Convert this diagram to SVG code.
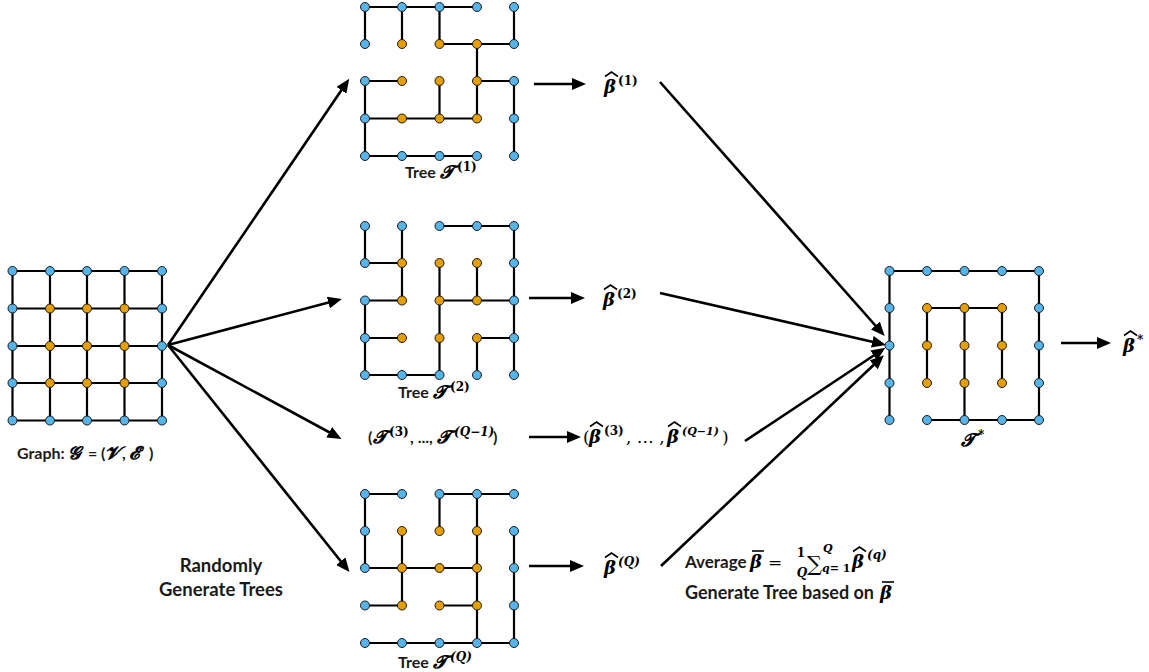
<svg xmlns="http://www.w3.org/2000/svg" width="1149" height="672" viewBox="0 0 1149 672">
<style>
.e{fill:none;stroke:#000;stroke-width:2.2;stroke-linecap:round}
.b{fill:#56B4E9;stroke:#1a1a1a;stroke-width:1}
.o{fill:#E69F00;stroke:#1a1a1a;stroke-width:1}
.a{fill:none;stroke:#000;stroke-width:2.6;marker-end:url(#ah)}
.t{font-family:Lato,"Liberation Sans",sans-serif;font-weight:bold;font-size:16px;fill:#1a1a1a}
.t2{font-family:Lato,"Liberation Sans",sans-serif;font-weight:bold;font-size:18.5px;fill:#1a1a1a}
.m{font-family:"DejaVu Serif","Liberation Serif",serif;font-weight:bold;font-style:italic;font-size:18px;fill:#000}
.n{font-family:"DejaVu Serif","Liberation Serif",serif;font-weight:normal;font-style:normal;font-size:17px;fill:#000}
.s{font-family:"DejaVu Serif","Liberation Serif",serif;font-weight:bold;font-style:normal;font-size:12px;fill:#000}
.si{font-family:"DejaVu Serif","Liberation Serif",serif;font-weight:bold;font-style:italic;font-size:12px;fill:#000}
.acc{fill:none;stroke:#000;stroke-width:1.6;stroke-linejoin:miter}
</style>
<defs>
<marker id="ah" markerUnits="userSpaceOnUse" markerWidth="14" markerHeight="12" refX="10" refY="6" orient="auto">
<path d="M0,0 L14,6 L0,12 z" fill="#000"/>
</marker>
<path id="hat" class="acc" d="M0,4.5 L6.5,0 L13,4.5"/>
<path id="bar" class="acc" d="M0,0 H12"/>
</defs>

<g id="graph">
<path class="e" d="M12.5,271 H162 M12.5,308.5 H162 M12.5,346 H162 M12.5,383 H162 M12.5,420.5 H162 M12.5,271 V420.5 M50,271 V420.5 M87,271 V420.5 M124.5,271 V420.5 M162,271 V420.5"/>
<circle class="b" cx="12.5" cy="271" r="4.5"/><circle class="b" cx="50" cy="271" r="4.5"/><circle class="b" cx="87" cy="271" r="4.5"/><circle class="b" cx="124.5" cy="271" r="4.5"/><circle class="b" cx="162" cy="271" r="4.5"/>
<circle class="b" cx="12.5" cy="308.5" r="4.5"/><circle class="o" cx="50" cy="308.5" r="4.5"/><circle class="o" cx="87" cy="308.5" r="4.5"/><circle class="o" cx="124.5" cy="308.5" r="4.5"/><circle class="b" cx="162" cy="308.5" r="4.5"/>
<circle class="b" cx="12.5" cy="346" r="4.5"/><circle class="o" cx="50" cy="346" r="4.5"/><circle class="o" cx="87" cy="346" r="4.5"/><circle class="o" cx="124.5" cy="346" r="4.5"/><circle class="b" cx="162" cy="346" r="4.5"/>
<circle class="b" cx="12.5" cy="383" r="4.5"/><circle class="o" cx="50" cy="383" r="4.5"/><circle class="o" cx="87" cy="383" r="4.5"/><circle class="o" cx="124.5" cy="383" r="4.5"/><circle class="b" cx="162" cy="383" r="4.5"/>
<circle class="b" cx="12.5" cy="420.5" r="4.5"/><circle class="b" cx="50" cy="420.5" r="4.5"/><circle class="b" cx="87" cy="420.5" r="4.5"/><circle class="b" cx="124.5" cy="420.5" r="4.5"/><circle class="b" cx="162" cy="420.5" r="4.5"/>
<text class="t" x="17" y="459">Graph:<tspan class="m" x="68">𝓖</tspan><tspan x="88">=</tspan><tspan x="101">(</tspan><tspan class="m" x="105">𝓥</tspan><tspan x="122">,</tspan><tspan class="m" x="129">𝓔</tspan><tspan x="149">)</tspan></text>
</g>

<g id="label-random">
<text class="t2" x="221" y="572" text-anchor="middle">Randomly</text>
<text class="t2" x="221" y="596" text-anchor="middle">Generate Trees</text>
</g>

<g id="tree1">
<path class="e" d="M365,7 H477 M365,7 V44 M402,7 V44 M439.5,7 V44 M514,7 V44 M439.5,44 H514 M477,44 V118.5 M365,81 H402 M477,81 H514 M365,81 V156 M439.5,81 V118.5 M514,81 V156 M365,118.5 H477 M365,156 H477"/>
<circle class="b" cx="365" cy="7" r="4.5"/><circle class="b" cx="402" cy="7" r="4.5"/><circle class="b" cx="439.5" cy="7" r="4.5"/><circle class="b" cx="477" cy="7" r="4.5"/><circle class="b" cx="514" cy="7" r="4.5"/>
<circle class="b" cx="365" cy="44" r="4.5"/><circle class="o" cx="402" cy="44" r="4.5"/><circle class="o" cx="439.5" cy="44" r="4.5"/><circle class="o" cx="477" cy="44" r="4.5"/><circle class="b" cx="514" cy="44" r="4.5"/>
<circle class="b" cx="365" cy="81" r="4.5"/><circle class="o" cx="402" cy="81" r="4.5"/><circle class="o" cx="439.5" cy="81" r="4.5"/><circle class="o" cx="477" cy="81" r="4.5"/><circle class="b" cx="514" cy="81" r="4.5"/>
<circle class="b" cx="365" cy="118.5" r="4.5"/><circle class="o" cx="402" cy="118.5" r="4.5"/><circle class="o" cx="439.5" cy="118.5" r="4.5"/><circle class="o" cx="477" cy="118.5" r="4.5"/><circle class="b" cx="514" cy="118.5" r="4.5"/>
<circle class="b" cx="365" cy="156" r="4.5"/><circle class="b" cx="402" cy="156" r="4.5"/><circle class="b" cx="439.5" cy="156" r="4.5"/><circle class="b" cx="477" cy="156" r="4.5"/><circle class="b" cx="514" cy="156" r="4.5"/>
<text class="t" x="405" y="178">Tree <tspan class="m" x="440">𝓣</tspan><tspan class="s" x="457" dy="-7">(1)</tspan></text>
</g>

<g id="tree2">
<path class="e" d="M439.5,226 H514 M365,226 V263 M402,226 V300.5 M514,226 V375 M365,263 H402 M439.5,263 V375 M477,263 V300.5 M365,300.5 H402 M439.5,300.5 H514 M365,300.5 V375 M365,338 H402 M477,338 H514 M477,338 V375 M365,375 H439.5"/>
<circle class="b" cx="365" cy="226" r="4.5"/><circle class="b" cx="402" cy="226" r="4.5"/><circle class="b" cx="439.5" cy="226" r="4.5"/><circle class="b" cx="477" cy="226" r="4.5"/><circle class="b" cx="514" cy="226" r="4.5"/>
<circle class="b" cx="365" cy="263" r="4.5"/><circle class="o" cx="402" cy="263" r="4.5"/><circle class="o" cx="439.5" cy="263" r="4.5"/><circle class="o" cx="477" cy="263" r="4.5"/><circle class="b" cx="514" cy="263" r="4.5"/>
<circle class="b" cx="365" cy="300.5" r="4.5"/><circle class="o" cx="402" cy="300.5" r="4.5"/><circle class="o" cx="439.5" cy="300.5" r="4.5"/><circle class="o" cx="477" cy="300.5" r="4.5"/><circle class="b" cx="514" cy="300.5" r="4.5"/>
<circle class="b" cx="365" cy="338" r="4.5"/><circle class="o" cx="402" cy="338" r="4.5"/><circle class="o" cx="439.5" cy="338" r="4.5"/><circle class="o" cx="477" cy="338" r="4.5"/><circle class="b" cx="514" cy="338" r="4.5"/>
<circle class="b" cx="365" cy="375" r="4.5"/><circle class="b" cx="402" cy="375" r="4.5"/><circle class="b" cx="439.5" cy="375" r="4.5"/><circle class="b" cx="477" cy="375" r="4.5"/><circle class="b" cx="514" cy="375" r="4.5"/>
<text class="t" x="398" y="398">Tree <tspan class="m" x="433">𝓣</tspan><tspan class="s" x="450" dy="-7">(2)</tspan></text>
</g>

<g id="trees-mid">
<text class="t" x="368" y="443">(<tspan class="m" x="373">𝓣</tspan><tspan class="s" x="389" dy="-7">(3)</tspan><tspan x="410" dy="7">, ...,</tspan><tspan class="m" x="437">𝓣</tspan><tspan class="si" x="454" dy="-7">(Q−1)</tspan><tspan x="493" dy="7">)</tspan></text>
</g>

<g id="treeQ">
<path class="e" d="M365,494 H402 M439.5,494 H514 M365,494 V568 M402,531 V605.5 M439.5,494 V531 M477,494 V643 M514,531 V643 M365,568 H477 M365,605.5 H402 M439.5,605.5 H477 M365,643 H514"/>
<circle class="b" cx="365" cy="494" r="4.5"/><circle class="b" cx="402" cy="494" r="4.5"/><circle class="b" cx="439.5" cy="494" r="4.5"/><circle class="b" cx="477" cy="494" r="4.5"/><circle class="b" cx="514" cy="494" r="4.5"/>
<circle class="b" cx="365" cy="531" r="4.5"/><circle class="o" cx="402" cy="531" r="4.5"/><circle class="o" cx="439.5" cy="531" r="4.5"/><circle class="o" cx="477" cy="531" r="4.5"/><circle class="b" cx="514" cy="531" r="4.5"/>
<circle class="b" cx="365" cy="568" r="4.5"/><circle class="o" cx="402" cy="568" r="4.5"/><circle class="o" cx="439.5" cy="568" r="4.5"/><circle class="o" cx="477" cy="568" r="4.5"/><circle class="b" cx="514" cy="568" r="4.5"/>
<circle class="b" cx="365" cy="605.5" r="4.5"/><circle class="o" cx="402" cy="605.5" r="4.5"/><circle class="o" cx="439.5" cy="605.5" r="4.5"/><circle class="o" cx="477" cy="605.5" r="4.5"/><circle class="b" cx="514" cy="605.5" r="4.5"/>
<circle class="b" cx="365" cy="643" r="4.5"/><circle class="b" cx="402" cy="643" r="4.5"/><circle class="b" cx="439.5" cy="643" r="4.5"/><circle class="b" cx="477" cy="643" r="4.5"/><circle class="b" cx="514" cy="643" r="4.5"/>
<text class="t" x="398" y="668">Tree <tspan class="m" x="433">𝓣</tspan><tspan class="si" x="450" dy="-7">(Q)</tspan></text>
</g>

<g id="betas">
<text class="m" x="604" y="93">β<tspan class="s" x="618" dy="-8">(1)</tspan></text>
<use href="#hat" x="605" y="72"/>
<text class="m" x="603" y="306">β<tspan class="s" x="617" dy="-8">(2)</tspan></text>
<use href="#hat" x="604" y="285"/>
<text class="n" x="583" y="443">(<tspan class="m" x="589">β</tspan><tspan class="s" x="604" dy="-8">(3)</tspan><tspan x="626" dy="8">, … ,</tspan><tspan class="m" x="667">β</tspan><tspan class="si" x="682" dy="-8" style="font-size:11px">(Q−1)</tspan><tspan x="722" dy="8">)</tspan></text>
<use href="#hat" x="590" y="422"/>
<use href="#hat" x="668" y="422"/>
<text class="m" x="604" y="574">β<tspan class="si" x="618" dy="-8">(Q)</tspan></text>
<use href="#hat" x="605" y="553"/>
</g>

<g id="average">
<text class="t" x="685" y="568" style="font-size:17px">Average</text>
<text class="m" x="750" y="568">β</text>
<use href="#bar" x="752" y="551"/>
<text class="n" x="768" y="568">=</text>
<text class="s" x="801" y="557" text-anchor="middle">1</text>
<text class="si" x="802" y="577" text-anchor="middle">Q</text>
<text class="n" x="807" y="571" style="font-size:21px">∑</text>
<text class="si" x="823" y="552" style="font-size:11px">Q</text>
<text class="si" x="822" y="572" style="font-size:11px">q<tspan class="s" style="font-size:11px">= 1</tspan></text>
<text class="m" x="852" y="568">β<tspan class="si" x="867" dy="-9">(q)</tspan></text>
<use href="#hat" x="853" y="547"/>
<text class="t" x="685" y="599" style="font-size:18px">Generate Tree based on</text>
<text class="m" x="880" y="599">β</text>
<use href="#bar" x="882" y="582"/>
</g>

<g id="tstar">
<path class="e" d="M889.5,271 H1039 M889.5,271 V420 M1039,271 V420 M927,308 H1002 M927,308 V383 M964.5,308 V420 M1002,308 V383 M927,420 H1039"/>
<circle class="b" cx="889.5" cy="271" r="4.5"/><circle class="b" cx="927" cy="271" r="4.5"/><circle class="b" cx="964.5" cy="271" r="4.5"/><circle class="b" cx="1002" cy="271" r="4.5"/><circle class="b" cx="1039" cy="271" r="4.5"/>
<circle class="b" cx="889.5" cy="308" r="4.5"/><circle class="o" cx="927" cy="308" r="4.5"/><circle class="o" cx="964.5" cy="308" r="4.5"/><circle class="o" cx="1002" cy="308" r="4.5"/><circle class="b" cx="1039" cy="308" r="4.5"/>
<circle class="b" cx="889.5" cy="345.5" r="4.5"/><circle class="o" cx="927" cy="345.5" r="4.5"/><circle class="o" cx="964.5" cy="345.5" r="4.5"/><circle class="o" cx="1002" cy="345.5" r="4.5"/><circle class="b" cx="1039" cy="345.5" r="4.5"/>
<circle class="b" cx="889.5" cy="383" r="4.5"/><circle class="o" cx="927" cy="383" r="4.5"/><circle class="o" cx="964.5" cy="383" r="4.5"/><circle class="o" cx="1002" cy="383" r="4.5"/><circle class="b" cx="1039" cy="383" r="4.5"/>
<circle class="b" cx="889.5" cy="420" r="4.5"/><circle class="b" cx="927" cy="420" r="4.5"/><circle class="b" cx="964.5" cy="420" r="4.5"/><circle class="b" cx="1002" cy="420" r="4.5"/><circle class="b" cx="1039" cy="420" r="4.5"/>
<text class="m" x="961" y="446">𝓣<tspan class="s" x="978" dy="-7">*</tspan></text>
</g>

<g id="betastar">
<text class="m" x="1123" y="352">β<tspan class="s" x="1137" dy="-8">*</tspan></text>
<use href="#hat" x="1124" y="331"/>
</g>

<g id="connectors">
<line class="a" x1="168" y1="345" x2="347" y2="82"/>
<line class="a" x1="168" y1="345" x2="338" y2="300"/>
<line class="a" x1="168" y1="345" x2="338" y2="437"/>
<line class="a" x1="168" y1="345" x2="347" y2="569"/>
<line class="a" x1="534" y1="84" x2="582" y2="84"/>
<line class="a" x1="529" y1="298" x2="581" y2="298"/>
<line class="a" x1="529" y1="437" x2="577" y2="437"/>
<line class="a" x1="529" y1="566" x2="580" y2="566"/>
<line class="a" x1="660" y1="82" x2="882" y2="333"/>
<line class="a" x1="660" y1="293" x2="882" y2="344"/>
<line class="a" x1="745" y1="441" x2="882" y2="350"/>
<line class="a" x1="661" y1="566" x2="881" y2="358"/>
<line class="a" x1="1061" y1="343" x2="1107" y2="343"/>
</g>
</svg>
